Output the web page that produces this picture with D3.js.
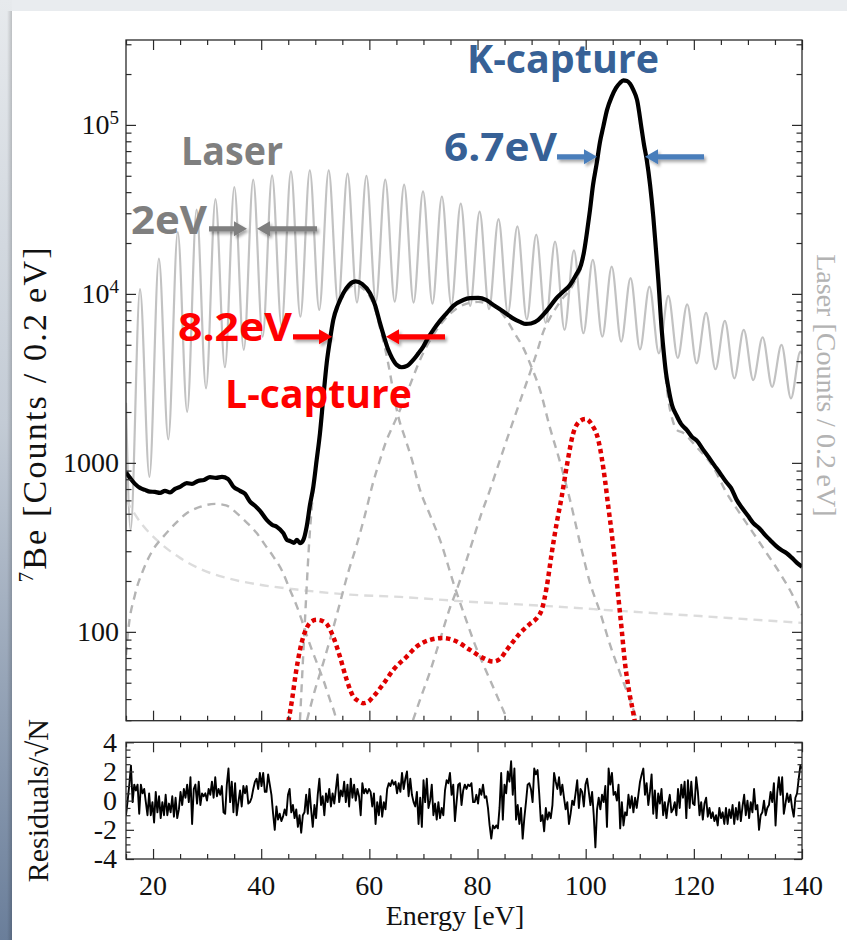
<!DOCTYPE html>
<html><head><meta charset="utf-8">
<script src="https://cdn.jsdelivr.net/npm/d3@7"></script>
<style>
html,body{margin:0;padding:0;background:#e9ecef;}
svg{display:block;}
</style></head><body>
<svg id="fig" width="847" height="940"></svg>
<script>
// ---------- data (energy in eV, counts per 0.2 eV) ----------
const xTicksMajor = [20, 40, 60, 80, 100, 120, 140];
const yTicksMajor = [100, 1000, 1e4, 1e5];
const residTicksMajor = [-4, -2, 0, 2, 4];

// laser calibration comb: alternating maxima and minima
const laser = [[15.0,2265],[15.85,400],[17.59,10660],[19.33,826],[21.08,16200],[22.82,1377],[24.57,23200],[26.31,2005],
  [28.06,31500],[29.80,2760],[31.54,36400],[33.29,3680],[35.03,42900],[36.78,4660],[38.52,47400],[40.27,5580],
  [42.01,50300],[43.76,6490],[45.50,53100],[47.24,7330],[48.99,53800],[50.73,8040],[52.48,53800],[54.22,8720],
  [55.97,51500],[57.71,8880],[59.46,50000],[61.20,8990],[62.94,47400],[64.69,8990],[66.43,44300],[68.18,8880],
  [69.92,40400],[71.67,8760],[73.41,37700],[75.16,8610],[76.90,34200],[78.64,8490],[80.39,30700],[82.13,8110],
  [83.88,27700],[85.62,7690],[87.37,25100],[89.11,7080],[90.86,22400],[92.60,6730],[94.34,20400],[96.09,6120],
  [97.83,18100],[99.58,5850],[101.32,15900],[103.07,5580],[104.81,14500],[106.56,5220],[108.30,12400],[110.04,4700],
  [111.79,11050],[113.53,4450],[115.28,9730],[117.02,4180],[118.77,8670],[120.51,3880],[122.26,7710],[124.00,3580],
  [125.74,6920],[127.49,3160],[129.23,6120],[130.98,3090],[132.72,5540],[134.47,2820],[136.21,4990],[137.96,2410],
  [139.70,4550],[140.0,4400]];

// 7Be spectrum: total fit through the data
const totalFit = [[15.0,877],[15.74,815],[16.66,751],[17.59,711],[18.51,692],[19.44,676],[20.36,673],[21.29,664],
  [22.21,683],[23.14,669],[24.06,702],[24.99,721],[26.22,759],[27.2,751],[28.31,782],[29.42,793],[30.53,823],
  [31.64,815],[32.75,826],[33.86,804],[34.84,724],[36.08,683],[37.0,656],[37.93,590],[38.85,557],[39.78,520],
  [41.02,460],[42.0,430],[42.92,418],[44.09,384],[44.77,350],[45.33,345],[46.06,336],[46.62,350],[47.17,335],
  [47.79,350],[48.41,420],[49.02,564],[49.64,724],[50.26,1042],[50.87,1500],[51.48,2424],[52.11,3890],[52.72,5345],
  [53.33,7016],[54.2,8610],[55.18,10090],[56.24,11300],[57.47,11860],[58.64,11460],[60.12,10090],[61.04,8610],
  [61.97,6710],[62.89,5345],[63.5,4664],[64.19,4180],[65.06,3800],[65.98,3680],[66.96,3750],[68.12,4070],
  [68.99,4415],[69.97,4877],[70.84,5490],[71.82,6120],[73.06,6920],[74.3,7690],[75.52,8490],[77.37,9210],
  [78.61,9430],[80.14,9470],[81.57,9210],[82.92,8610],[84.16,8100],[85.4,7610],[86.56,7160],[87.86,6830],
  [88.96,6640],[89.89,6680],[91.24,7016],[92.29,7610],[93.4,8410],[94.64,9470],[95.81,10280],[97.1,11300],
  [98.21,12950],[99.14,14850],[99.69,17740],[100.25,23270],[100.8,31400],[101.36,44150],[102.04,59320],
  [102.65,79300],[103.26,97700],[103.95,122700],[104.82,146900],[105.61,165500],[106.35,177300],[106.96,183400],
  [107.65,182000],[108.2,175000],[108.81,161100],[109.5,140600],[110.37,93300],[110.79,76200],[111.29,62080],
  [111.91,44150],[112.5,28660],[113.0,18200],[113.43,12100],[114.06,6120],[114.48,4355],[114.85,3400],[115.28,2800],
  [115.96,2200],[116.83,1900],[117.63,1700],[118.68,1567],[119.66,1425],[120.59,1349],[121.75,1194],[122.81,1071],
  [123.73,973],[124.84,869],[125.95,773],[126.87,711],[127.92,604],[128.9,542],[130.01,486],[131.0,440],
  [132.05,412],[133.16,375],[134.08,350],[135.19,323],[136.11,306],[137.17,292],[138.15,274],[139.07,256],[140.0,243]];

// fit components
const lowBump = [[15.0,73],[15.43,103],[16.66,166],[18.2,233],[19.99,306],[21.9,366],[24.06,435],[26.22,504],
  [28.68,549],[31.46,572],[33.49,561],[35.47,504],[37.19,448],[39.17,384],[40.7,327],[42.24,279],[43.85,230],
  [45.33,177],[46.62,141],[47.79,110],[49.02,84],[50.26,66],[51.48,52],[52.72,39.6],[53.65,32.3],[54.2,27]];
const background = [[15.0,604],[17.59,448],[21.29,336],[24.99,274],[28.68,236],[34.23,206],[39.78,190],[47.17,177],
  [56.42,166],[65.67,161],[76.76,152],[91.55,143],[106.35,133],[121.14,124],[140.0,113]];
const peakL = [[47.17,30],[47.54,52],[47.91,89.7],[48.38,177],[48.84,327],[49.39,564],[50.13,1014],[50.87,1445],
  [51.48,2327],[52.11,3750],[52.72,5200],[53.33,6830],[54.2,8380],[55.18,9730],[56.24,10850],[57.47,11300],
  [58.64,10850],[60.12,9600],[61.04,8150],[61.97,6290],[62.89,4790],[63.82,3396],[64.56,2490],[65.35,1879],
  [66.59,1406],[67.88,1042],[69.36,692],[71.21,492],[73.06,350],[75.84,182],[77.68,123],[79.53,84],[82.31,52],
  [84.16,38],[86.0,28]];
const peakMid = [[48.47,30],[49.95,45.4],[51.48,65.6],[52.91,94.6],[54.57,148.6],[56.05,223],[57.66,327],[59.19,492],
  [60.73,773],[61.97,1042],[63.21,1368],[64.19,1611],[65.35,1950],[66.59,2424],[67.88,3097],[69.36,4065],
  [70.84,5060],[72.32,6040],[74.17,7210],[76.02,8150],[77.87,8730],[80.09,8970],[82.31,8610],[84.16,7930],
  [85.4,7016],[86.93,5800],[88.47,4790],[89.89,3750],[91.55,2704],[93.4,1611],[95.25,1014],[97.1,604],[98.95,336],
  [100.8,195],[102.65,131],[104.5,84],[106.35,57],[108.2,39.6],[109.49,30],[110.2,26]];
const peakK = [[68.07,30],[69.36,39.6],[71.21,58],[73.06,89.7],[74.91,139],[76.15,177],[77.68,249],[79.16,350],
  [80.64,492],[82.31,692],[83.79,960],[85.4,1368],[86.93,1897],[88.47,2630],[89.7,3410],[91.0,4540],[92.16,5960],
  [93.4,7210],[94.64,8380],[95.81,9470],[97.1,10560],[98.21,12270],[99.14,14260],[99.69,17020],[100.25,22650],
  [100.8,30570],[101.36,42970],[102.04,57970],[102.65,77200],[103.26,95900],[103.95,121000],[104.82,144500],
  [105.61,163300],[106.35,175000],[106.96,180800],[107.65,179500],[108.2,172600],[108.81,158900],[109.5,138700],
  [110.37,92100],[110.79,75100],[111.29,61200],[111.91,43550],[112.5,28180],[113.0,17960],[113.43,11780],
  [114.06,5880],[114.48,4180],[114.85,3097],[115.28,2360],[115.96,1846],[116.83,1567],[118.0,1506],[120.48,1244],
  [123.56,947],[126.08,662],[128.48,504],[130.99,384],[133.47,292],[135.93,222],[138.39,162],[140.0,126]];

// difference spectrum (red)
const diffCurve = [[45.03,29.5],[45.7,39.6],[46.44,58],[47.17,78.2],[48.41,105.6],[49.21,114.6],[50.26,117.8],
  [51.24,116.2],[52.11,111.4],[53.33,93.3],[54.57,71.1],[55.81,52],[57.03,41.4],[57.9,39.1],[58.88,37.8],
  [59.75,38.5],[60.73,41.4],[62.58,49.2],[64.43,59.6],[66.91,71.4],[68.75,81.8],[71.21,89.7],[73.67,92],
  [76.15,87.6],[78.61,78.2],[81.07,69.9],[82.92,66.7],[84.16,69.2],[85.4,78.2],[86.56,87.3],[87.86,98.2],
  [89.7,111.4],[91.0,121],[91.87,135],[92.8,185],[93.72,292],[94.64,440],[95.57,632],[96.49,951],[97.71,1500],
  [98.77,1748],[100.0,1820],[101.17,1678],[102.33,1368],[103.57,793],[104.18,551],[104.81,384],[105.42,255],
  [106.03,162],[106.66,103],[107.27,65.3],[107.88,47.5],[108.81,33],[109.13,29]];

// normalised residuals, 15 - 140 eV in equal steps
const residLow = [-1.0,0.0,1.1,2.4,-0.1,1.1,0.7,1.1,-0.9,1.1,0.5,0.8,-0.1,-1.0,0.5,-1.0,-0.1,-1.5,0.6,-0.8,0.3,-1.2,
  -0.1,-1.0,0.4,-1.0,-0.2,-0.8,0.3,-1.1,0.2,-1.2,-0.6,0.6,-0.3,0.8,0.2,1.1,-0.1,1.6,-1.6,0.8,1.1,-0.2,1.3,-0.3,0.5,
  0.3,0.5,0.0,0.8,0.4,1.3,0.2,1.6,0.3,0.8,0.4,1.0,-0.8,-0.9,1.1,2.2,-0.1,1.3,-0.8,1.2,-1.0,-0.1,0.7,-0.4,1.0,0.5,
  1.0,-0.2,-0.1,0.2,0.8,1.3,1.5,0.8,1.9,1.0,1.9,0.6,0.6,1.8,1.1,0.4,-0.9,-2.0,-0.4,-1.3,-0.9,-1.4,-1.1,-0.6,-1.0,
  0.4,0.8,-0.8,-0.3,-1.2,-0.6,-1.8,-1.0,-2.2,-1.0,-0.8,0.4,-0.9,0.8,-0.6,-1.8,-0.3,-1.2,0.4,1.5,-0.3,0.3,-1.0,0.5,
  -0.1,0.8,-0.4,0.5,-0.2,0.8,1.8,-0.1,0.7,0.3,1.3,-0.1,1.1,-0.4,1.5,0.2,1.1,0.0,0.8,0.3,-1.0,1.2,0.5,0.8,0.5,0.8,
  0.6,-0.4,0.5,-1.6,-0.1,-1.0,0.3,-1.1,-0.1,-0.6,0.8,1.2,1.0,1.4,1.1,1.3,0.5,1.2,0.6,1.9,0.8,1.5,2.0,0.3,1.5,0.4,
  -0.1,-0.4,0.6,-1.6,0.2,-1.8,1.4,-0.1,1.5,-0.5,0.0,1.1,-1.0,-0.2,-1.3,-0.1,-1.2,-0.5,-1.0,0.7,1.4,1.2,1.9,0.4,1.1,
  -1.4,-0.1,1.1,1.2];
const residHigh = [-0.3,0.7,1.1,0.8,1.1,1.0,1.2,-0.1,-0.1,0.4,-0.2,0.8,0.4,1.1,0.2,0.3,-0.5,-1.7,-2.6,-1.7,-1.9,-1.7,
  -1.9,-0.5,1.9,-1.3,1.1,0.5,2.0,1.3,2.7,0.4,2.2,-1.3,-0.3,-1.6,-0.5,-2.6,-1.2,-0.1,1.1,1.2,0.8,-0.1,2.2,1.8,2.1,
  0.5,-1.4,-1.0,-2.1,-0.5,-1.3,-0.8,-1.2,-0.3,1.9,1.3,0.8,1.6,0.4,1.1,0.2,-0.6,-0.1,-1.6,-0.9,0.0,-0.3,0.5,1.4,-0.5,
  0.8,0.6,-0.4,1.1,1.5,0.6,-0.3,0.6,-1.0,-3.2,-0.6,0.2,-0.6,0.4,-0.1,1.0,-1.8,2.2,1.1,1.9,0.4,0.6,0.0,1.1,-1.9,-0.1,
  -1.7,-0.8,-1.0,0.4,-0.5,0.3,-0.8,0.2,-0.5,0.4,1.3,1.8,2.2,0.4,1.2,-0.3,0.6,1.8,-0.9,0.7,-1.2,0.5,-0.2,0.8,-1.0,
  -0.1,-1.2,-0.2,0.4,-0.8,-0.6,-0.1,-1.0,0.8,-0.5,1.1,0.2,1.3,-1.2,1.4,-0.5,1.3,-0.2,-0.3,1.6,0.6,-1.0,-0.1,-1.3,
  -0.2,0.2,-1.1,-0.5,-1.2,-0.8,-1.4,-1.0,-1.7,-0.5,-1.2,-0.8,-1.6,-0.5,-1.6,-0.6,-1.2,-0.3,-1.6,-0.5,-1.3,-0.1,-1.4,
  -0.4,0.4,-1.0,0.0,-1.2,-0.1,-0.8,0.8,-0.6,-0.3,-2.0,-1.0,-0.8,0.0,-1.0,-0.5,-0.3,0.6,-0.1,1.2,-1.7,0.5,1.6,0.4,
  1.6,-0.9,-0.2,0.5,-0.1,0.4,-0.5,-1.1,0.2,0.5,1.5,2.4,2.2];

// annotations
const labelText = ["K-capture", "6.7eV", "Laser", "2eV", "8.2eV", "L-capture"];
const labelE = [78.05, 73.8, 25.17, 15.92, 24.62, 33.31];
const labelY = [203200, 61500, 57900, 22650, 5272, 2113];
const labelW = [192, 113, 102, 76, 114, 187];
const labelColor = ["#376196", "#376196", "#7f7f7f", "#7f7f7f", "#ff0000", "#ff0000"];
// FWHM arrows: tail energy, tip energy, height in counts
const arrowTail = [94.7, 121.88, 30.35, 50.32, 45.88, 73.99];
const arrowTip = [102.09, 110.97, 37.37, 39.22, 53.09, 63.08];
const arrowY = [64700, 64700, 24260, 24260, 5570, 5570];
const arrowColor = ["#4a7ebb", "#4a7ebb", "#7f7f7f", "#7f7f7f", "#ff0000", "#ff0000"];

// ---------- drawing ----------
const W = 847, H = 940;
const svg = d3.select("#fig");
const defs = svg.append("defs");

const edge = defs.append("linearGradient").attr("id", "edge").attr("x1", 0).attr("y1", 0).attr("x2", 0).attr("y2", 1);
edge.append("stop").attr("offset", "0%").attr("stop-color", "#e7eaed");
edge.append("stop").attr("offset", "45%").attr("stop-color", "#c3cbd5");
edge.append("stop").attr("offset", "100%").attr("stop-color", "#6a7e9a");
const shade = defs.append("linearGradient").attr("id", "shade").attr("x1", 0).attr("y1", 0).attr("x2", 1).attr("y2", 0);
shade.append("stop").attr("offset", "0%").attr("stop-color", "#000").attr("stop-opacity", 0);
shade.append("stop").attr("offset", "100%").attr("stop-color", "#000").attr("stop-opacity", 0.18);
const drop = defs.append("filter").attr("id", "drop").attr("x", "-30%").attr("y", "-80%").attr("width", "160%").attr("height", "260%");
drop.append("feDropShadow").attr("dx", 2).attr("dy", 2.5).attr("stdDeviation", 1.6)
  .attr("flood-color", "#000").attr("flood-opacity", 0.35);

svg.append("rect").attr("width", W).attr("height", H).attr("fill", "#e9ecef");
svg.append("rect").attr("x", 0).attr("y", 0).attr("width", 12).attr("height", H).attr("fill", "url(#edge)");
svg.append("rect").attr("x", 7).attr("y", 11).attr("width", 5).attr("height", H).attr("fill", "url(#shade)");
svg.append("rect").attr("x", 12).attr("y", 11).attr("width", W - 12).attr("height", H - 11).attr("fill", "#fff");

const frame = {left: 126, right: 802, top: 40, bottom: 720.7};
const rFrame = {top: 742.3, bottom: 859};

const x = d3.scaleLinear().domain([15, 140]).range([frame.left, frame.right]);
const y = d3.scaleLog().domain([29.8, 3.18e5]).range([frame.bottom, frame.top]);
const yr = d3.scaleLinear().domain([-4, 4]).range([rFrame.bottom, rFrame.top]);

defs.append("clipPath").attr("id", "clipMain").append("rect")
  .attr("x", frame.left).attr("y", frame.top).attr("width", frame.right - frame.left).attr("height", frame.bottom - frame.top);
defs.append("clipPath").attr("id", "clipRes").append("rect")
  .attr("x", frame.left).attr("y", rFrame.top).attr("width", frame.right - frame.left).attr("height", rFrame.bottom - rFrame.top);

const line = d3.line().x(d => x(d[0])).y(d => y(d[1])).curve(d3.curveMonotoneX);

const plot = svg.append("g").attr("clip-path", "url(#clipMain)");
plot.append("path").attr("d", line(laser)).attr("fill", "none")
  .attr("stroke", "#c2c2c2").attr("stroke-width", 2.2);
plot.append("path").attr("d", line(background)).attr("fill", "none")
  .attr("stroke", "#dcdcdc").attr("stroke-width", 2.4).attr("stroke-dasharray", "9,6");
[lowBump, peakL, peakMid, peakK].forEach(c => {
  plot.append("path").attr("d", line(c)).attr("fill", "none")
    .attr("stroke", "#b4b4b4").attr("stroke-width", 2.4).attr("stroke-dasharray", "8,6");
});
plot.append("path").attr("d", line(diffCurve)).attr("fill", "none")
  .attr("stroke", "#e00000").attr("stroke-width", 4.5).attr("stroke-dasharray", "4.5,3.5");
plot.append("path").attr("d", line(totalFit)).attr("fill", "none")
  .attr("stroke", "#000").attr("stroke-width", 4.2).attr("stroke-linejoin", "round");

// annotations
const ann = svg.append("g");
labelText.forEach((t, i) => {
  ann.append("text").attr("x", x(labelE[i])).attr("y", y(labelY[i]))
    .attr("font-family", "'Open Sans', sans-serif").attr("font-weight", 700).attr("font-size", 39)
    .attr("textLength", labelW[i]).attr("lengthAdjust", "spacingAndGlyphs")
    .attr("fill", labelColor[i]).text(t);
});
arrowTail.forEach((e, i) => {
  const xt = x(e), xp = x(arrowTip[i]), yy = y(arrowY[i]);
  const dir = Math.sign(xp - xt), hl = 13, hw = 7.5, sw = 2.6;
  const pts = [[xt, yy - sw], [xp - dir * hl, yy - sw], [xp - dir * hl, yy - hw], [xp, yy],
               [xp - dir * hl, yy + hw], [xp - dir * hl, yy + sw], [xt, yy + sw]];
  ann.append("path").attr("d", "M" + pts.join("L") + "Z").attr("fill", arrowColor[i]).attr("filter", "url(#drop)");
});

// residual trace
const residuals = residLow.concat(residHigh);
const step = 125 / (residuals.length - 1);
const residPts = residuals.map((v, i) => [15 + i * step, v]);
svg.append("g").attr("clip-path", "url(#clipRes)").append("path")
  .attr("d", d3.line().x(d => x(d[0])).y(d => yr(d[1]))(residPts))
  .attr("fill", "none").attr("stroke", "#000").attr("stroke-width", 1.9).attr("stroke-linejoin", "round");

// frames and ticks
const tickColor = "#2a2a2a";
function styleAxis(g) {
  g.select(".domain").remove();
  g.selectAll(".tick line").attr("stroke", tickColor).attr("stroke-width", 1.2);
  g.selectAll("text").remove();
}
const xAll = d3.range(15, 141, 5);
const xMinor = xAll.filter(v => v % 20 !== 0);
const yMinor = [];
[10, 100, 1000, 1e4, 1e5].forEach(d => { for (let k = 2; k <= 9; k++) { const v = d * k; if (v > 29.8 && v < 3.18e5) yMinor.push(v); } });

function xTicks(yTop, yBot) {
  svg.append("g").attr("transform", `translate(0,${yBot})`).call(d3.axisBottom(x).tickValues(xMinor).tickSize(-5)).call(styleAxis);
  svg.append("g").attr("transform", `translate(0,${yBot})`).call(d3.axisBottom(x).tickValues(xTicksMajor).tickSize(-10)).call(styleAxis);
  svg.append("g").attr("transform", `translate(0,${yTop})`).call(d3.axisTop(x).tickValues(xMinor).tickSize(-5)).call(styleAxis);
  svg.append("g").attr("transform", `translate(0,${yTop})`).call(d3.axisTop(x).tickValues(xTicksMajor).tickSize(-10)).call(styleAxis);
}
xTicks(frame.top, frame.bottom);
xTicks(rFrame.top, rFrame.bottom);

[[d3.axisLeft, frame.left], [d3.axisRight, frame.right]].forEach(([ax, pos]) => {
  svg.append("g").attr("transform", `translate(${pos},0)`).call(ax(y).tickValues(yMinor).tickSize(-5.5)).call(styleAxis);
  svg.append("g").attr("transform", `translate(${pos},0)`).call(ax(y).tickValues(yTicksMajor).tickSize(-10)).call(styleAxis);
  svg.append("g").attr("transform", `translate(${pos},0)`).call(ax(yr).tickValues(d3.range(-3.5, 4, 0.5).filter(v => v % 2 !== 0)).tickSize(-4.5)).call(styleAxis);
  svg.append("g").attr("transform", `translate(${pos},0)`).call(ax(yr).tickValues(residTicksMajor).tickSize(-8)).call(styleAxis);
});

svg.append("rect").attr("x", frame.left).attr("y", frame.top).attr("width", frame.right - frame.left)
  .attr("height", frame.bottom - frame.top).attr("fill", "none").attr("stroke", tickColor).attr("stroke-width", 1.3);
svg.append("rect").attr("x", frame.left).attr("y", rFrame.top).attr("width", frame.right - frame.left)
  .attr("height", rFrame.bottom - rFrame.top).attr("fill", "none").attr("stroke", tickColor).attr("stroke-width", 1.3);

// tick labels and titles
const serif = "'Liberation Serif', 'Times New Roman', serif";
const lab = svg.append("g").attr("font-family", serif).attr("fill", "#111");
yTicksMajor.forEach(v => {
  const t = lab.append("text").attr("x", frame.left - 7).attr("y", y(v)).attr("dy", "0.33em")
    .attr("text-anchor", "end").attr("font-size", 28);
  if (v >= 1e4) {
    t.append("tspan").text("10");
    t.append("tspan").attr("dy", "-0.55em").attr("font-size", 19).text(String(Math.round(Math.log10(v))));
  } else t.text(String(v));
});
residTicksMajor.forEach(v => {
  lab.append("text").attr("x", frame.left - 9).attr("y", yr(v)).attr("dy", "0.33em")
    .attr("text-anchor", "end").attr("font-size", 28).text(String(v));
});
xTicksMajor.forEach(v => {
  lab.append("text").attr("x", x(v)).attr("y", 895).attr("text-anchor", "middle").attr("font-size", 28).text(String(v));
});
lab.append("text").attr("x", 455).attr("y", 925).attr("text-anchor", "middle").attr("font-size", 28).text("Energy [eV]");

const yl = lab.append("text").attr("transform", "translate(46,415) rotate(-90)")
  .attr("text-anchor", "middle").attr("font-size", 34)
  .attr("textLength", 335).attr("lengthAdjust", "spacing");
yl.append("tspan").attr("font-size", 21).attr("dy", "-0.6em").text("7");
yl.append("tspan").attr("dy", "0.38em").text("Be [Counts / 0.2\u2009eV]");

lab.append("text").attr("transform", `translate(48,${(rFrame.top + rFrame.bottom) / 2}) rotate(-90)`)
  .attr("text-anchor", "middle").attr("font-size", 30).text("Residuals/\u221AN");

svg.append("text").attr("transform", `translate(817,${(frame.top + frame.bottom) / 2 + 5}) rotate(90)`)
  .attr("text-anchor", "middle").attr("font-family", serif).attr("font-size", 28).attr("fill", "#b3b3b3")
  .text("Laser [Counts / 0.2\u2009eV]");
</script></body></html>
